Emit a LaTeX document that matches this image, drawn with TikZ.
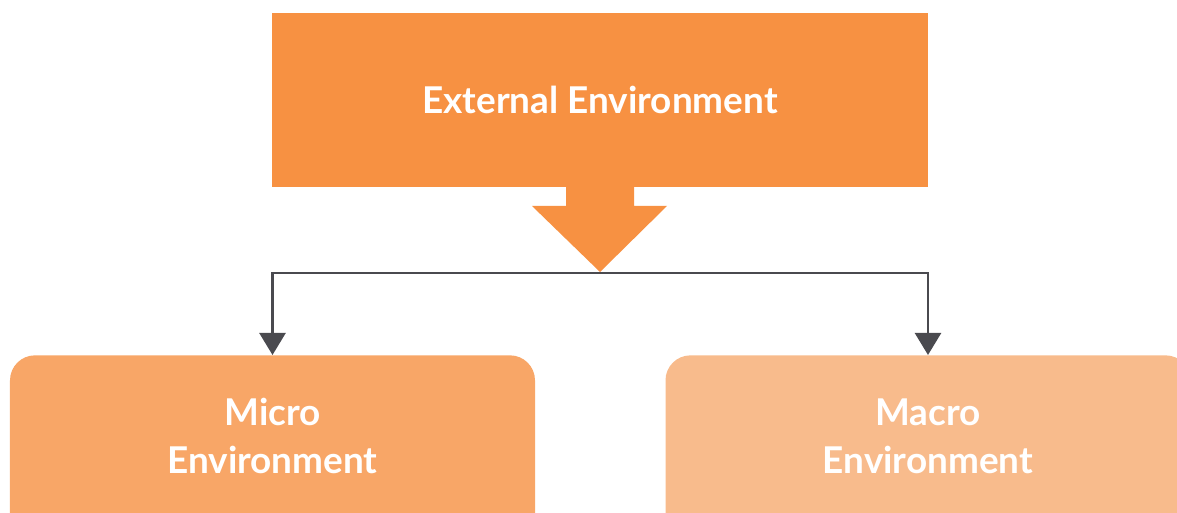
\documentclass[tikz,border=0pt]{standalone}
\usepackage{fontspec}
\setmainfont{Lato}
\usetikzlibrary{arrows.meta,calc}
\definecolor{extfill}{HTML}{F79142}
\definecolor{microfill}{HTML}{F8A667}
\definecolor{macrofill}{HTML}{F8BB8C}
\definecolor{linkgray}{HTML}{4A4A4F}
\tikzset{topbox/.style={fill=extfill, draw=none, minimum width=13.12cm, minimum height=3.48cm, inner sep=0},
         lowbox/.style={draw=none, rounded corners=0.5cm, minimum width=10.5cm, minimum height=4.4cm, anchor=north, inner sep=0},
         boxtext/.style={text=white, font=\bfseries\fontsize{21}{27.5}\selectfont, align=center, inner sep=0},
         link/.style={draw=linkgray, line width=1.4pt, -{Triangle[width=0.52cm,length=0.44cm]}}}

\begin{document}
\begin{tikzpicture}
\path[use as bounding box] (0,0) rectangle (23.54,-10.26);
\clip (0,0) rectangle (23.54,-10.26);

\node[topbox] (ext) at (12,-2) {};
\node[boxtext] (exttxt) at (ext.center) {External Environment};

% block arrow under the top box
\fill[extfill] (11.32,-3.74) -- (12.68,-3.74) -- (12.68,-4.12) -- (13.34,-4.12)
  -- (12,-5.44) -- (10.64,-4.12) -- (11.32,-4.12) -- cycle;
\coordinate (tip) at (12,-5.46);

\node[lowbox, fill=microfill] (micro) at (5.45,-7.1) {};
\node[boxtext] (microtxt) at ($(micro.north)+(0,-1.62)$) {Micro\\Environment};
\node[lowbox, fill=macrofill] (macro) at (18.56,-7.1) {};
\node[boxtext] (macrotxt) at ($(macro.north)+(0,-1.62)$) {Macro\\Environment};

\draw[link] (tip) -| (micro.north);
\draw[link] (tip) -| (macro.north);

\end{tikzpicture}
\end{document}
